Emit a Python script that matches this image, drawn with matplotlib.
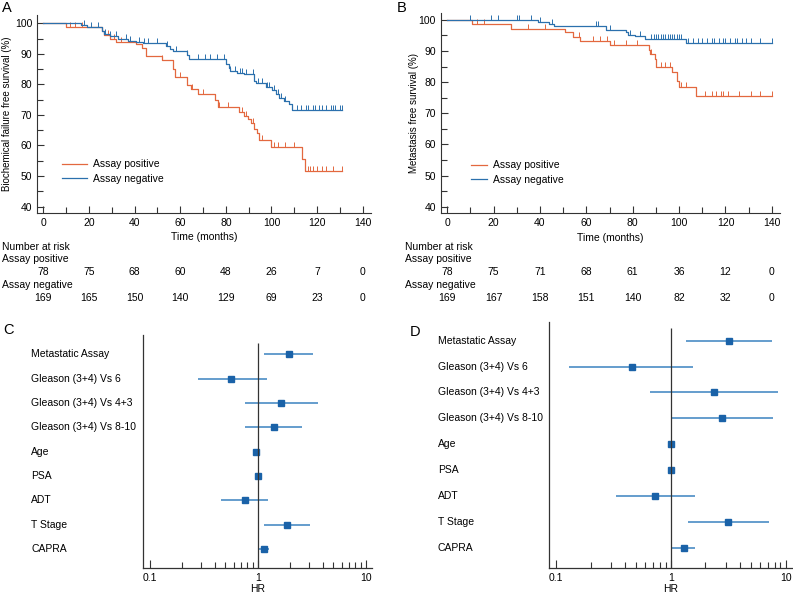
import numpy as np
import matplotlib
matplotlib.use("Agg")
import matplotlib.pyplot as plt
from matplotlib.transforms import blended_transform_factory
from matplotlib.lines import Line2D
from matplotlib.ticker import MultipleLocator, FixedLocator, NullFormatter

plt.rcParams['font.family'] = ['Liberation Sans', 'DejaVu Sans']
plt.rcParams['font.size'] = 7

ORANGE = '#e3683f'
BLUE = '#2b70ad'
SQ_BLUE = '#1a62a8'
CI_BLUE = '#3a82c0'
AXC = '#333333'

# ---- data: panel A (biochemical failure) ----
a_pos_t = [0, 9.7, 25.5, 26.5, 29, 32, 40.5, 43.4, 45, 52, 57, 57.7, 62.8, 64.7, 68, 75.3, 76.4,
           85.8, 88, 89.5, 91, 92.4, 93.8, 94.5, 100, 113.5, 114.5, 131]
a_pos_s = [100, 98.8, 97.5, 96.2, 95.0, 93.9, 93.2, 91.8, 89.3, 88.0, 85.0, 82.5, 79.8, 78.5, 77.0, 74.8, 72.5,
           71.0, 69.8, 68.7, 67.3, 65.5, 64.0, 61.8, 59.6, 55.5, 51.7, 51.7]
a_pos_cens = [11.5, 14, 17, 28.5, 31, 34, 38, 52, 60, 65, 70, 77, 81, 87, 89, 92, 96, 101, 103, 106,
              110, 116, 117, 118, 120, 122, 124, 127, 131]
a_neg_t = [0, 16.4, 19.2, 25.5, 26.6, 29, 32.7, 37, 40.7, 43.6, 53.8, 55.3, 56.7, 63, 63.7, 80, 81.2,
           81.7, 85, 88, 92.4, 93.4, 97.5, 100.4, 101.8, 103.3, 105.5, 107.6, 109, 131]
a_neg_s = [100, 99.5, 98.8, 97.5, 96.5, 95.8, 95.0, 94.3, 93.8, 93.4, 92.5, 91.5, 90.8, 89.5, 88.2, 86.8, 85.5,
           84.5, 83.7, 83.3, 81.0, 80.3, 79.0, 78.0, 77.0, 75.5, 74.5, 73.5, 71.5, 71.5]
a_neg_cens = [18, 21, 24, 27, 29, 32, 36, 38, 42, 44, 46, 50, 54, 58, 63, 68, 71, 73, 76, 79, 82, 84, 86,
              87, 89, 92, 94, 96, 98, 99, 101, 103, 104, 106, 111, 113, 115, 116, 118, 119, 121, 122,
              124, 126, 127, 128, 130, 131]
a_risk_pos = [78, 75, 68, 60, 48, 26, 7, 0]
a_risk_neg = [169, 165, 150, 140, 129, 69, 23, 0]

# ---- data: panel B (metastasis) ----
b_pos_t = [0, 10.5, 27.3, 51, 54.2, 57.1, 70.4, 86.8, 87.6, 89.4, 90.1, 97, 99.1, 99.8, 107.3, 140]
b_pos_s = [100, 98.6, 97.2, 96.0, 94.6, 93.1, 91.8, 90.3, 89.0, 87.5, 84.9, 83.2, 80.5, 78.5, 75.5, 75.5]
b_pos_cens = [13, 16, 35, 42, 57, 63, 66, 69, 72, 77, 82, 88, 92, 94, 96, 101, 103, 111, 114, 116, 118,
              119, 121, 126, 131, 135, 140]
b_neg_t = [0, 39.2, 43.9, 46, 68.3, 77.2, 77.9, 80.8, 85.5, 103, 140]
b_neg_s = [100, 99.3, 98.8, 97.9, 96.6, 96.0, 95.2, 94.7, 94.0, 92.7, 92.7]
b_neg_cens = [10, 19, 22, 30, 31, 36, 40, 45, 64, 65, 70, 79, 83, 88, 89, 90, 91, 92, 93, 94, 95, 96,
              97, 98, 99, 100, 101, 104, 106, 108, 110, 112, 114, 115, 117, 119, 120, 122, 124, 125,
              127, 129, 131, 135, 140]
b_risk_pos = [78, 75, 71, 68, 61, 36, 12, 0]
b_risk_neg = [169, 167, 158, 151, 140, 82, 32, 0]

risk_times = [0, 20, 40, 60, 80, 100, 120, 140]

# ---- data: forest plots C and D ----
factors = ["Metastatic Assay", "Gleason (3+4) Vs 6", "Gleason (3+4) Vs 4+3", "Gleason (3+4) Vs 8-10",
           "Age", "PSA", "ADT", "T Stage", "CAPRA"]
c_hr = [1.94, 0.57, 1.64, 1.40, 0.96, 1.00, 0.76, 1.86, 1.13]
c_lo = [1.14, 0.28, 0.76, 0.76, 0.94, 0.99, 0.46, 1.15, 1.00]
c_hi = [3.28, 1.21, 3.60, 2.59, 0.99, 1.01, 1.24, 3.06, 1.28]
d_hr = [3.18, 0.46, 2.39, 2.79, 1.00, 1.00, 0.73, 3.15, 1.29]
d_lo = [1.35, 0.13, 0.66, 1.02, 0.99, 0.99, 0.33, 1.40, 1.02]
d_hi = [7.56, 1.57, 8.65, 7.82, 1.01, 1.01, 1.63, 7.22, 1.62]

W, H = 793, 595
fig = plt.figure(figsize=(W / 100, H / 100), dpi=100)


def box(l, t, r, b):
    return [l / W, 1 - b / H, (r - l) / W, (b - t) / H]


def fy(py):
    return 1 - py / H


def km_panel(ax, curves, ylabel, risk_pos, risk_neg, leg_anchor, handlelen, ylim, ylab_x):
    for t, s, cens, col in curves:
        ax.step(t, s, where='post', color=col, lw=0.9)
        idx = np.searchsorted(t, cens, side='right') - 1
        ax.plot(cens, np.array(s)[idx], ls='none', marker=2, ms=3.5, mew=0.7, color=col)
    ax.set_xlim(-2.8, 143.5)
    ax.set_ylim(*ylim)
    ax.xaxis.set_major_locator(MultipleLocator(20))
    ax.xaxis.set_minor_locator(MultipleLocator(10))
    ax.yaxis.set_major_locator(MultipleLocator(10))
    ax.yaxis.set_minor_locator(MultipleLocator(5))
    ax.set_yticks(np.arange(40, 101, 10))
    ax.tick_params(which='both', direction='in', color=AXC, width=0.8, labelsize=7.5)
    ax.tick_params(which='major', length=5, pad=3.5)
    ax.tick_params(which='minor', length=4)
    for sp in ['top', 'right']:
        ax.spines[sp].set_visible(False)
    for sp in ['left', 'bottom']:
        ax.spines[sp].set_color(AXC)
        ax.spines[sp].set_linewidth(0.8)
    ax.set_xlabel('Time (months)', fontsize=7.5)
    ax.xaxis.set_label_coords(0.5, -0.123)
    ax.xaxis.label.set_va('center')
    ax.set_ylabel(ylabel, fontsize=7)
    ax.yaxis.set_label_coords(ylab_x, 0.5)
    ax.yaxis.label.set_va('center')
    handles = [Line2D([], [], color=ORANGE, lw=0.9), Line2D([], [], color=BLUE, lw=0.9)]
    ax.legend(handles, ['Assay positive', 'Assay negative'], frameon=False, loc='upper left',
              bbox_to_anchor=leg_anchor, borderpad=0, borderaxespad=0, handlelength=handlelen,
              handletextpad=0.6, labelspacing=0.45, fontsize=7.5)
    tr = blended_transform_factory(ax.transData, fig.transFigure)
    for x, p, n in zip(risk_times, risk_pos, risk_neg):
        ax.text(x, fy(272), str(p), transform=tr, ha='center', va='center', fontsize=7.5)
        ax.text(x, fy(298), str(n), transform=tr, ha='center', va='center', fontsize=7.5)


axA = fig.add_axes(box(37, 15, 370.7, 212.7))
km_panel(axA, [(a_pos_t, a_pos_s, a_pos_cens, ORANGE), (a_neg_t, a_neg_s, a_neg_cens, BLUE)],
         'Biochemical failure free survival (%)', a_risk_pos, a_risk_neg, (0.075, 0.27), 2.4,
         (38, 102.7), (7 - 37) / 333.7)

axB = fig.add_axes(box(440.7, 13, 780, 213.3))
km_panel(axB, [(b_pos_t, b_pos_s, b_pos_cens, ORANGE), (b_neg_t, b_neg_s, b_neg_cens, BLUE)],
         'Metastasis free survival (%)', b_risk_pos, b_risk_neg, (0.088, 0.265), 1.6,
         (37.9, 102.2), (414 - 440.7) / 339.3)

for x0 in (2, 405):
    fig.text(x0 / W, fy(247), 'Number at risk', ha='left', va='center', fontsize=7.5)
    fig.text(x0 / W, fy(259), 'Assay positive', ha='left', va='center', fontsize=7.5)
    fig.text(x0 / W, fy(285), 'Assay negative', ha='left', va='center', fontsize=7.5)


def forest_panel(ax, hr, lo, hi, label_x, xlim, vtop, ylim, hr_y):
    rows = np.arange(len(factors))
    ax.hlines(rows, lo, hi, color=CI_BLUE, lw=1.1)
    ax.plot(hr, rows, ls='none', marker='s', ms=3.8, color=SQ_BLUE)
    ax.vlines(1, vtop, ylim[0], color=AXC, lw=0.9)
    ax.set_xscale('log')
    ax.set_xlim(*xlim)
    ax.set_ylim(*ylim)
    ax.set_yticks([])
    ax.xaxis.set_major_locator(FixedLocator([0.1, 1, 10]))
    ax.set_xticklabels(['0.1', '1', '10'])
    minors = [m * d for d in (0.1, 1) for m in range(2, 10)]
    ax.xaxis.set_minor_locator(FixedLocator(minors))
    ax.xaxis.set_minor_formatter(NullFormatter())
    ax.tick_params(which='both', direction='in', color=AXC, width=0.8, labelsize=7.5)
    ax.tick_params(which='major', length=6, pad=3.5)
    ax.tick_params(which='minor', length=4)
    for sp in ['top', 'right']:
        ax.spines[sp].set_visible(False)
    for sp in ['left', 'bottom']:
        ax.spines[sp].set_color(AXC)
        ax.spines[sp].set_linewidth(0.9)
    ax.set_xlabel('HR', fontsize=7.5)
    ax.xaxis.set_label_coords(0.5, hr_y)
    ax.xaxis.label.set_va('center')
    tr = blended_transform_factory(fig.transFigure, ax.transData)
    for r, name in zip(rows, factors):
        ax.text(label_x / W, r, name, transform=tr, ha='left', va='center', fontsize=7.5)


axC = fig.add_axes(box(143, 335, 371.7, 568))
forest_panel(axC, c_hr, c_lo, c_hi, 31, (0.0861, 11.4), -0.48, (8.78, -0.79), -(589 - 568) / 233)

axD = fig.add_axes(box(549.3, 321.7, 792, 568.3))
forest_panel(axD, d_hr, d_lo, d_hi, 437.7, (0.0875, 11.35), -0.48, (8.78, -0.73), -(589 - 568.3) / 246.6)

for lab, x, y in [('A', 2, 8), ('B', 397, 8), ('C', 3, 330), ('D', 410, 332)]:
    fig.text(x / W, fy(y), lab, ha='left', va='center', fontsize=10.5)

fig.savefig('out.png', dpi=100)
